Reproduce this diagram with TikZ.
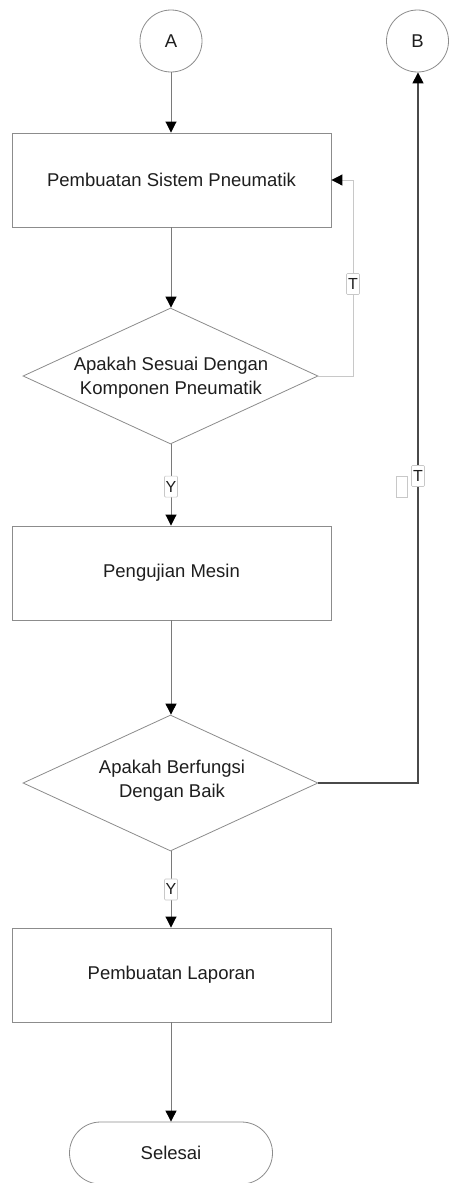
\documentclass[tikz,border=0pt]{standalone}
\usepackage{fontspec}
\setmainfont{Liberation Sans}
\usetikzlibrary{shapes.geometric,shapes.misc,arrows.meta}
\definecolor{shapeline}{HTML}{8C8C8C}
\definecolor{conn}{HTML}{7A7A7A}
\definecolor{connlight}{HTML}{C8C8C8}
\definecolor{conndark}{HTML}{4A4A4A}
\definecolor{txt}{HTML}{1E1E1E}
\tikzset{
  every node/.style={text=txt},
  conncircle/.style={circle, draw=shapeline, line width=0.8pt, minimum size=62pt, inner sep=0pt, font=\fontsize{18.5}{22}\selectfont},
  procbox/.style={rectangle, draw=shapeline, line width=0.9pt, minimum width=319pt, minimum height=94pt, inner sep=0pt, font=\fontsize{18.5}{22}\selectfont},
  decision/.style={diamond, draw=shapeline, line width=0.8pt, minimum width=295pt, minimum height=136pt, inner sep=0pt, aspect=2.17},
  dectext/.style={align=center, font=\fontsize{18.5}{24}\selectfont, inner sep=0pt},
  terminal/.style={rounded rectangle, draw=shapeline, line width=0.8pt, minimum width=203pt, minimum height=62pt, inner sep=0pt, font=\fontsize{18.5}{22}\selectfont},
  flow/.style={draw=conn, line width=0.9pt, -{Triangle[length=11pt,width=11pt,color=black]}},
  flowlight/.style={draw=connlight, line width=1pt, -{Triangle[length=11pt,width=11pt,color=black]}},
  flowdark/.style={draw=conndark, line width=1.1pt, -{Triangle[length=11pt,width=11pt,color=black]}},
  edgelbl/.style={rectangle, draw=connlight, fill=white, line width=0.6pt, rounded corners=1pt, inner sep=1.2pt, minimum width=13pt, minimum height=21pt, font=\fontsize{16}{18}\selectfont},
  ghostbox/.style={rectangle, draw=connlight, fill=white, line width=0.6pt, minimum width=11pt, minimum height=21pt, inner sep=0pt}
}
\begin{document}
\begin{tikzpicture}[x=1pt,y=-1pt]
\useasboundingbox (0,0) rectangle (449,1183);
\fill[white] (0,0) rectangle (449,1183);
% nodes
\node[conncircle] (A) at (171,41) {A};
\node[conncircle] (B) at (417.5,41) {B};
\node[procbox] (p1) at (171.5,180) {Pembuatan Sistem Pneumatik};
\node[decision] (d1) at (170.5,376) {};
\node[dectext] (d1t) at (171,378) {Apakah Sesuai Dengan\\Komponen Pneumatik};
\node[procbox] (p2) at (171.5,573) {Pengujian Mesin};
\node[decision] (d2) at (170.5,783) {};
\node[dectext] (d2t) at (172,781) {Apakah Berfungsi\\Dengan Baik};
\node[procbox] (p3) at (171.5,975) {Pembuatan Laporan};
\node[terminal] (end) at (171,1153) {Selesai};
% corner coordinates
\coordinate (c1a) at (353,376);
\coordinate (c1b) at (353,180);
\coordinate (c2a) at (418,783);
% connectors
\draw[flow] (A.south) -- (A.south |- p1.north);
\draw[flow] (p1.south -| A.south) -- (d1.north -| A.south);
\draw[flow] (d1.south -| A.south) -- (p2.north -| A.south)
  node[edgelbl, pos=0.52] (ly1) {Y};
\draw[flow] (p2.south -| A.south) -- (d2.north -| A.south);
\draw[flow] (d2.south -| A.south) -- (p3.north -| A.south)
  node[edgelbl, pos=0.5] (ly2) {Y};
\draw[flow] (p3.south -| A.south) -- (end.north -| A.south);
\draw[flowlight] (d1.east) -- (c1a) -- (c1b) -- (p1.east);
\node[edgelbl] (lt1) at (353,284) {T};
\draw[flowdark] (d2.east) -- (c2a) -- (B.south -| c2a);
\node[ghostbox] (gb) at (401.5,487) {};
\node[edgelbl] (lt2) at (418,476) {T};
\end{tikzpicture}
\end{document}
